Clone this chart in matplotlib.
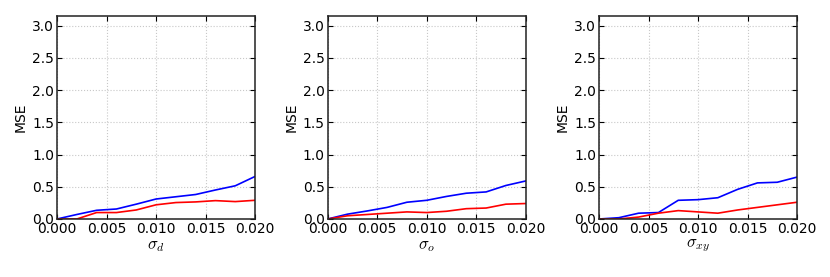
import matplotlib
matplotlib.use('Agg')
import matplotlib.pyplot as plt
import numpy as np

plt.rcParams['mathtext.fontset'] = 'cm'
plt.rcParams['font.family'] = 'DejaVu Sans'

sigma = [0.000, 0.002, 0.004, 0.006, 0.008, 0.010, 0.012, 0.014, 0.016, 0.018, 0.020]

blue_d = [0.0, 0.07, 0.135, 0.155, 0.23, 0.31, 0.345, 0.38, 0.45, 0.515, 0.66]
red_d = [0.0, 0.0, 0.10, 0.10, 0.14, 0.22, 0.255, 0.265, 0.285, 0.27, 0.29]

blue_o = [0.0, 0.075, 0.125, 0.18, 0.26, 0.29, 0.35, 0.40, 0.42, 0.52, 0.59]
red_o = [0.0, 0.05, 0.07, 0.09, 0.11, 0.10, 0.12, 0.16, 0.17, 0.23, 0.24]

blue_xy = [0.0, 0.02, 0.09, 0.10, 0.29, 0.30, 0.33, 0.46, 0.56, 0.57, 0.65]
red_xy = [0.0, 0.0, 0.03, 0.09, 0.13, 0.11, 0.09, 0.14, 0.18, 0.22, 0.26]

xlabels = [r'$\sigma_d$', r'$\sigma_o$', r'$\sigma_{xy}$']
panels = [(blue_d, red_d), (blue_o, red_o), (blue_xy, red_xy)]
lefts = [0.0687, 0.3948, 0.7217]

fig = plt.figure(figsize=(8.3, 2.77), dpi=100)

for left, (blue, red), xl in zip(lefts, panels, xlabels):
    ax = fig.add_axes([left, 0.2094, 0.2386, 0.733])
    ax.plot(sigma, blue, color='blue', linewidth=1.2)
    ax.plot(sigma, red, color='red', linewidth=1.2)
    ax.set_xlim(0, 0.02)
    ax.set_ylim(0, 3.15)
    ax.set_xticks([0.0, 0.005, 0.010, 0.015, 0.020])
    ax.set_xticklabels(['0.000', '0.005', '0.010', '0.015', '0.020'])
    ax.set_yticks([0.0, 0.5, 1.0, 1.5, 2.0, 2.5, 3.0])
    ax.tick_params(direction='in', top=True, right=True, labelsize=10, length=3.5, pad=2)
    ax.grid(True, linestyle=':', color='#c8c8c8', linewidth=0.8)
    for s in ax.spines.values():
        s.set_linewidth(1.1)
        s.set_color('#222222')
    ax.set_xlabel(xl, fontsize=12, labelpad=0)
    ax.set_ylabel('MSE', fontsize=10, labelpad=3)

fig.savefig('out.png', dpi=100)
